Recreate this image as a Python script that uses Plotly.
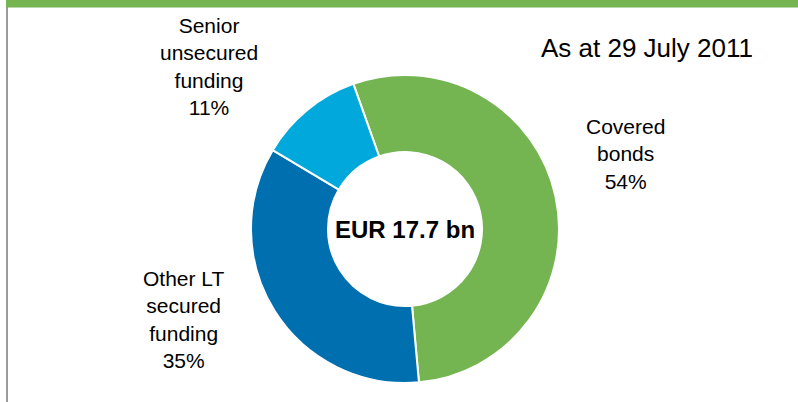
import plotly.graph_objects as go

categories = ["Covered<br>bonds", "Other LT<br>secured<br>funding", "Senior<br>unsecured<br>funding"]
values = [54, 35, 11]
colors = ["#74B552", "#006FAF", "#00A8DC"]
center_label = "EUR 17.7 bn"
date_label = "As at 29 July 2011"

W, H = 798, 402
cx, cy, r = 405, 229, 154

fig = go.Figure()
fig.add_trace(go.Pie(
    labels=categories,
    values=values,
    hole=0.5,
    sort=False,
    direction="clockwise",
    rotation=-19.6,
    marker=dict(colors=colors, line=dict(color="white", width=2)),
    textinfo="none",
    hoverinfo="label+percent",
    showlegend=False,
    domain=dict(x=[(cx - r) / W, (cx + r) / W], y=[(H - cy - r) / H, (H - cy + r) / H]),
))

# label positions (pixel centres)
label_pos = [(625, 154), (183, 319), (209, 66)]
for cat, val, (px, py) in zip(categories, values, label_pos):
    fig.add_annotation(
        x=px / W, y=1 - py / H, xref="paper", yref="paper",
        text=f"{cat}<br>{val}%", showarrow=False,
        xanchor="center", yanchor="middle",
        font=dict(family="Liberation Sans, Arial", size=21, color="#000000"),
    )

fig.add_annotation(
    x=cx / W, y=1 - 229 / H, xref="paper", yref="paper",
    text=f"<b>{center_label}</b>", showarrow=False,
    xanchor="center", yanchor="middle",
    font=dict(family="Liberation Sans, Arial", size=24, color="#000000"),
)
fig.add_annotation(
    x=647 / W, y=1 - 48 / H, xref="paper", yref="paper",
    text=date_label, showarrow=False,
    xanchor="center", yanchor="middle",
    font=dict(family="Liberation Sans, Arial", size=26, color="#000000"),
)

# top green band and left border
fig.add_shape(type="rect", xref="paper", yref="paper",
              x0=6 / W, x1=1, y0=1 - 7.5 / H, y1=1,
              fillcolor="#74B552", line=dict(width=0), layer="above")
fig.add_shape(type="rect", xref="paper", yref="paper",
              x0=6 / W, x1=8 / W, y0=0, y1=1 - 7 / H,
              fillcolor="#9A9A9A", line=dict(width=0), layer="above")

fig.update_layout(
    width=W, height=H,
    margin=dict(l=0, r=0, t=0, b=0),
    paper_bgcolor="white", plot_bgcolor="white",
)
fig.write_html("out.html", config={"displayModeBar": False},
               post_script="document.body.style.margin='0';document.body.style.overflow='hidden';")
